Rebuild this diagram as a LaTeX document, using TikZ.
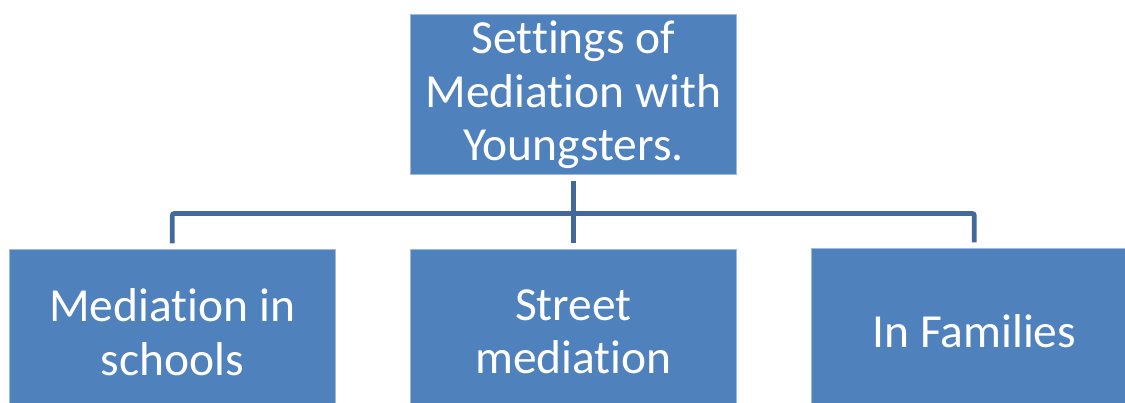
\documentclass[tikz,border=0pt]{standalone}
\usepackage{fontspec}
\setmainfont{Carlito}[Ligatures=NoCommon]
\definecolor{boxblue}{HTML}{4F81BD}
\definecolor{linkblue}{HTML}{41699B}
\begin{document}
\begin{tikzpicture}[x=1pt,y=-1pt,
  box/.style={rectangle, fill=boxblue, draw=boxblue!55!white, line width=1pt,
    text=white, align=center, inner sep=0pt,
    font=\fontsize{47.5pt}{53.5pt}\selectfont},
  child/.style={box, minimum width=325.5pt, minimum height=165pt},
  link/.style={draw=linkblue, line width=4.7pt, rounded corners=2pt,
    shorten <=6pt, shorten >=5.7pt}]
\useasboundingbox (0,0) rectangle (1125,403);
\clip (0,0) rectangle (1125,403);
\node[box, minimum width=326.7pt, minimum height=160pt] (top) at (573.4,95)
  {Settings of\\Mediation with\\Youngsters.};
\node[child] (c1) at (172.3,332) {Mediation in\\schools};
\node[child] (c2) at (573.4,332) {Street\\mediation};
\node[child] (c3) at (974.3,331) {In Families};
\draw[link] (top.south) -- ++(0,38) -| (c1.north);
\draw[link] (top.south) -- (c2.north);
\draw[link] (top.south) -- ++(0,38) -| (c3.north);
\end{tikzpicture}
\end{document}
